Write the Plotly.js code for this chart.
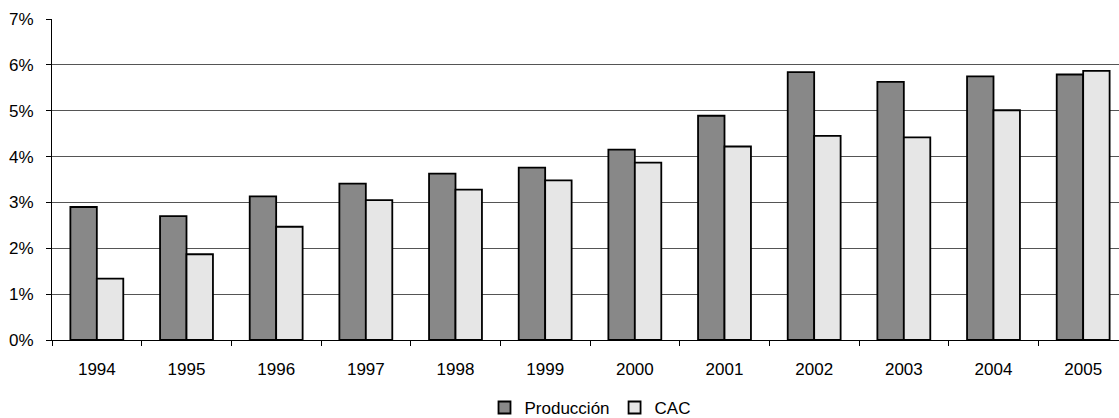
<!DOCTYPE html>
<html>
<head>
<meta charset="utf-8">
<script src="https://cdn.plot.ly/plotly-3.0.1.min.js"></script>
<style>
html,body{margin:0;padding:0;overflow:hidden;background:#fff;}
#chart{width:1132px;height:418px;}
</style>
</head>
<body>
<div id="chart"></div>
<script>
const years = ["1994","1995","1996","1997","1998","1999","2000","2001","2002","2003","2004","2005"];
const produccion = [2.90, 2.70, 3.13, 3.41, 3.63, 3.76, 4.15, 4.89, 5.84, 5.63, 5.75, 5.79];
const cac = [1.34, 1.87, 2.47, 3.05, 3.28, 3.48, 3.87, 4.22, 4.45, 4.42, 5.01, 5.87];
const yTicks = [0,1,2,3,4,5,6,7];
const yTickText = ["0%","1%","2%","3%","4%","5%","6%","7%"];

const font = {family: "'Liberation Sans', Arial, sans-serif", size: 17, color: "#000"};

const traces = [
  {type: "bar", name: "Producción", x: years, y: produccion,
   marker: {color: "#888888", line: {color: "#000", width: 1.8}}},
  {type: "bar", name: "CAC", x: years, y: cac,
   marker: {color: "#e6e6e6", line: {color: "#000", width: 1.8}}}
];

const layout = {
  width: 1132, height: 418,
  margin: {l: 52, r: 4, t: 19, b: 78},
  paper_bgcolor: "#fff", plot_bgcolor: "#fff",
  font: font,
  barmode: "group",
  bargap: 0.41, bargroupgap: 0,
  showlegend: true,
  legend: {orientation: "h", x: 0.5, xanchor: "center",
           yref: "container", y: 0.024, yanchor: "middle",
           font: font, itemclick: false, itemwidth: 30, tracegroupgap: 0},
  xaxis: {type: "category", showgrid: false, zeroline: false,
          showline: true, linecolor: "#000", linewidth: 1,
          ticks: "outside", tickson: "boundaries", ticklen: 5, tickcolor: "#000",
          tickfont: font, ticklabelstandoff: 14},
  yaxis: {range: [0, 7], tickvals: yTicks, ticktext: yTickText,
          showgrid: true, gridcolor: "#555", gridwidth: 1,
          zeroline: false, showline: true, linecolor: "#000", linewidth: 1,
          ticks: "outside", ticklen: 5, tickcolor: "#000", tickfont: font,
          ticklabelstandoff: 9},
};

Plotly.newPlot("chart", traces, layout, {staticPlot: true, displayModeBar: false});
</script>
</body>
</html>
